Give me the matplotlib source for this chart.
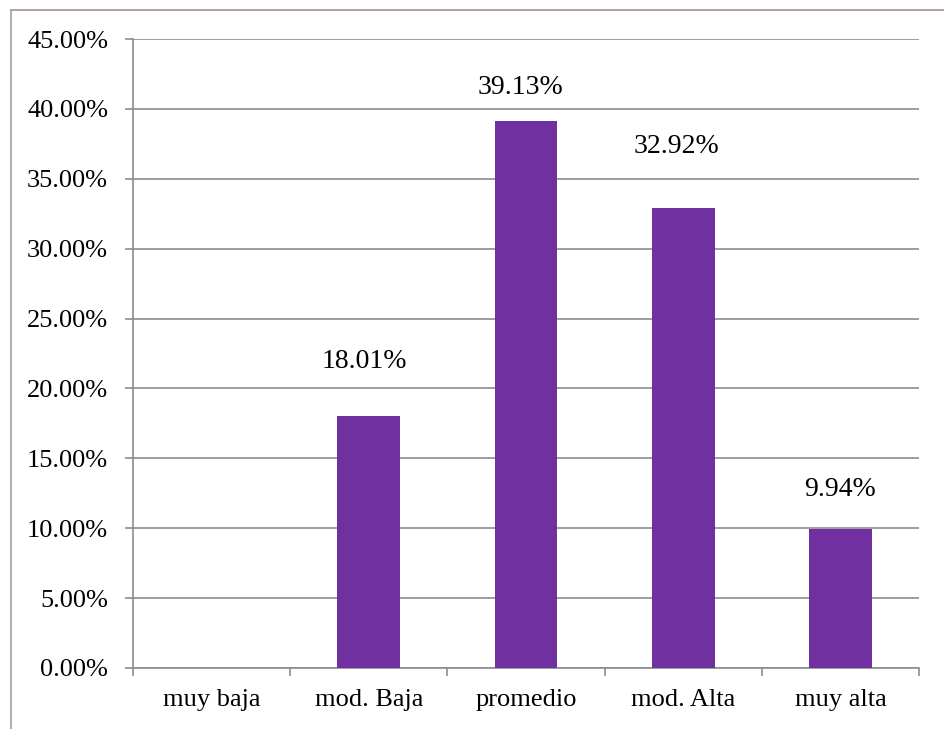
import numpy as np
import matplotlib.pyplot as plt
from matplotlib.lines import Line2D
from matplotlib.ticker import FuncFormatter

plt.rcParams['font.family'] = ['Liberation Serif', 'DejaVu Serif']

categories = ['muy baja', 'mod. Baja', 'promedio', 'mod. Alta', 'muy alta']
values = [0.0, 0.1801, 0.3913, 0.3292, 0.0994]
labels = ['', '18.01%', '39.13%', '32.92%', '9.94%']
# label height above bar top, in pixels (labels sit at uneven heights)
label_offsets = [0, 55, 34, 61, 40]
label_dx = [0, -4, -6, -7, 0]

bar_color = '#7030A0'
grid_color = '#8c8c8c'
fs = 19
label_fs = 20

fig = plt.figure(figsize=(9.45, 7.29), dpi=100)
ax = fig.add_axes([133 / 945, 1 - 668 / 729, (919 - 133) / 945, (668 - 39) / 729])

x = np.arange(len(categories))
ax.bar(x, values, width=0.4, color=bar_color, zorder=3)

for xi, v, lab, off, dx in zip(x, values, labels, label_offsets, label_dx):
    if lab:
        ax.annotate(lab, (xi, v), xytext=(dx * 0.72, off * 0.72), textcoords='offset points',
                    ha='center', va='center', fontsize=label_fs, color='black')

ax.set_xlim(-0.5, len(categories) - 0.5)
ax.set_ylim(0, 0.45)
ax.set_yticks(np.arange(0, 0.451, 0.05))
ax.yaxis.set_major_formatter(FuncFormatter(lambda v, p: f'{v * 100:.2f}%'))
ax.yaxis.grid(True, color=grid_color, linewidth=1.2, zorder=0)
ax.set_axisbelow(True)

# category boundaries as major ticks, names on minor ticks
ax.set_xticks(np.arange(-0.5, len(categories), 1.0))
ax.set_xticklabels([])
ax.set_xticks(x, minor=True)
ax.set_xticklabels(categories, minor=True)
ax.tick_params(axis='x', which='major', length=6, color=grid_color, width=1.2)
ax.tick_params(axis='x', which='minor', length=0, pad=15, labelsize=fs)
ax.tick_params(axis='y', length=6, color=grid_color, width=1.2, pad=12, labelsize=fs)

for s in ['top', 'right']:
    ax.spines[s].set_visible(False)
for s in ['left', 'bottom']:
    ax.spines[s].set_color(grid_color)
    ax.spines[s].set_linewidth(1.2)

# chart area border (top and left visible)
fig.add_artist(Line2D([10.5 / 945, 1.0], [1 - 9.5 / 729, 1 - 9.5 / 729], color='#a89090', linewidth=1.2))
fig.add_artist(Line2D([10.5 / 945, 10.5 / 945], [0, 1 - 9.5 / 729], color='#a0a0a0', linewidth=1.2))

fig.savefig('out.png', dpi=100)
